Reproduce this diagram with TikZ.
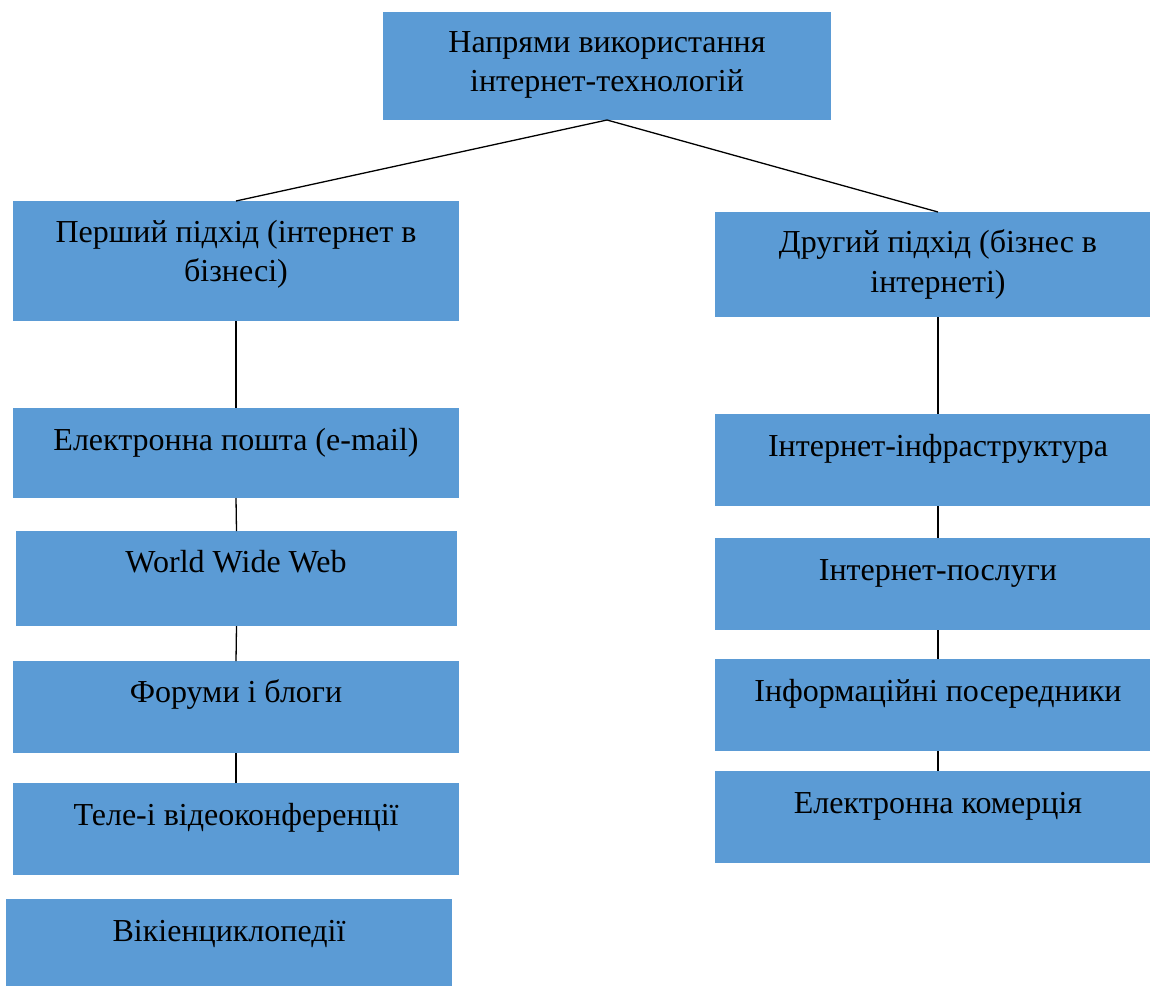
\documentclass[tikz,border=0pt]{standalone}
\usepackage{fontspec}
\setmainfont{Liberation Serif}
\definecolor{boxblue}{HTML}{5B9BD5}
\begin{document}
\begin{tikzpicture}[x=1pt,y=-1pt,
  boxnode/.style={fill=boxblue, draw=none, inner sep=0pt, outer sep=0pt, anchor=north west},
  txt/.style={font=\fontsize{32}{40}\selectfont, anchor=base, inner sep=0pt, text=black},
  link/.style={draw=black, line width=1.3pt}]
\clip (0,0) rectangle (1150,985);
% boxes
\node[boxnode, minimum width=448pt, minimum height=108pt] (top) at (383,12) {};
\node[boxnode, minimum width=446pt, minimum height=120pt] (l1) at (13,201) {};
\node[boxnode, minimum width=446pt, minimum height=90pt] (l2) at (13,408) {};
\node[boxnode, minimum width=441pt, minimum height=95pt] (l3) at (16,531) {};
\node[boxnode, minimum width=446pt, minimum height=92pt] (l4) at (13,661) {};
\node[boxnode, minimum width=446pt, minimum height=92pt] (l5) at (13,783) {};
\node[boxnode, minimum width=446pt, minimum height=92pt] (l6) at (6,899) {};
\node[boxnode, minimum width=446pt, minimum height=105pt] (r1) at (715,212) {};
\node[boxnode, minimum width=446pt, minimum height=92pt] (r2) at (715,414) {};
\node[boxnode, minimum width=446pt, minimum height=92pt] (r3) at (715,538) {};
\node[boxnode, minimum width=446pt, minimum height=92pt] (r4) at (715,659) {};
\node[boxnode, minimum width=446pt, minimum height=92pt] (r5) at (715,771) {};
% texts
\node[txt] (topA) at (607,52) {Напрями використання};
\node[txt] (topB) at (607,91) {інтернет-технологій};
\node[txt] (l1A) at (236,242) {Перший підхід (інтернет в};
\node[txt] (l1B) at (236,281) {бізнесі)};
\node[txt] (l2T) at (236,450) {Електронна пошта (e-mail)};
\node[txt] (l3T) at (236,572) {World Wide Web};
\node[txt] (l4T) at (236,702) {Форуми і блоги};
\node[txt] (l5T) at (236,825) {Теле-і відеоконференції};
\node[txt] (l6T) at (229,941) {Вікіенциклопедії};
\node[txt] (r1A) at (938,252) {Другий підхід (бізнес в};
\node[txt] (r1B) at (938,292) {інтернеті)};
\node[txt] (r2T) at (938,456) {Інтернет-інфраструктура};
\node[txt] (r3T) at (938,580) {Інтернет-послуги};
\node[txt] (r4T) at (938,701) {Інформаційні посередники};
\node[txt] (r5T) at (938,813) {Електронна комерція};
% connectors
\draw[link] (top.south) -- (l1.north);
\draw[link] (top.south) -- (r1.north);
\draw[link] (l1.south) -- (l2.north);
\draw[link] (l2.south) -- (l3.north);
\draw[link] (l3.south) -- (l4.north);
\draw[link] (l4.south) -- (l5.north);
\draw[link] (r1.south) -- (r2.north);
\draw[link] (r2.south) -- (r3.north);
\draw[link] (r3.south) -- (r4.north);
\draw[link] (r4.south) -- (r5.north);
\end{tikzpicture}
\end{document}
